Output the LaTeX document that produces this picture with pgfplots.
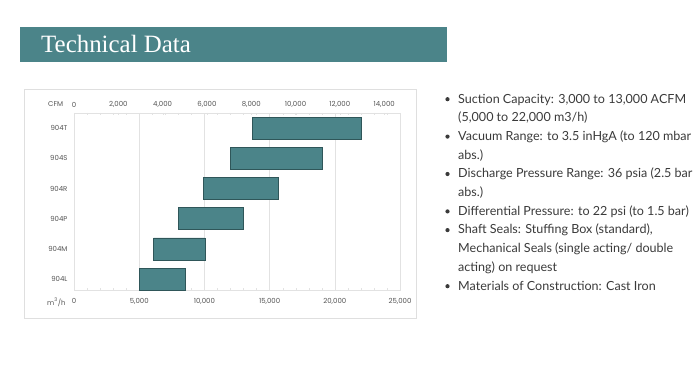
\documentclass[border=0pt]{standalone}
\usepackage{pgfplots}
\pgfplotsset{compat=1.18}
\usepackage{fontspec}
\setmainfont{Lato}
\newfontfamily\chartfont{Poppins}
\newfontfamily\titlefont{Liberation Serif}
\definecolor{teal1}{HTML}{4B8489}
\definecolor{tealdark}{HTML}{2F5659}
\definecolor{lbl}{HTML}{555555}
\definecolor{txt}{HTML}{3A3A3A}
\definecolor{gridc}{HTML}{E2E2E2}
\begin{document}
\begin{tikzpicture}[x=1bp,y=1bp]
\path[use as bounding box] (0,0) rectangle (700,383);
% title banner
\fill[teal1] (20,321) rectangle (447,356);
\node[anchor=base west, inner sep=0pt, text=white, font=\titlefont\fontsize{25}{28}\selectfont] at (41,331) {Technical Data};
% card
\draw[draw=gray!25, fill=white] (24,65) rectangle (416,294);
% chart
\begin{axis}[
  at={(74bp,93bp)}, anchor=south west,
  scale only axis, width=326bp, height=177bp,
  xmin=0, xmax=25000, ymin=-0.36, ymax=5.5,
  xbar stacked, bar width=22bp,
  axis line style={gridc},
  scaled x ticks=false,
  xtick={0,5000,10000,15000,20000,25000},
  xticklabels={0,{5,000},{10,000},{15,000},{20,000},{25,000}},
  minor x tick num=4,
  xmajorgrids, major grid style={gridc},
  major tick length=0pt, minor tick length=2bp,
  minor tick style={gridc},
  ytick={0,1,2,3,4,5},
  yticklabels={904L,904M,904P,904R,904S,904T},
  tick label style={font=\chartfont\fontsize{7}{8}\selectfont, text=lbl},
  xticklabel style={yshift=-5bp},
  yticklabel style={xshift=-3bp},
  clip=false,
]
\addplot[draw=none, fill=none] coordinates {(5000,0) (6100,1) (8000,2) (9900,3) (12000,4) (13650,5)};
\addplot[fill=teal1, draw=tealdark, line width=0.6bp] coordinates {(3550,0) (3950,1) (5000,2) (5800,3) (7050,4) (8350,5)};
\end{axis}
\begin{axis}[
  at={(74bp,93bp)}, anchor=south west,
  scale only axis, width=326bp, height=177bp,
  xmin=0, xmax=14714, ymin=-0.36, ymax=5.5,
  axis x line*=top, axis y line=none,
  axis line style={gridc},
  scaled x ticks=false,
  xtick={0,2000,4000,6000,8000,10000,12000,14000},
  xticklabels={0,{2,000},{4,000},{6,000},{8,000},{10,000},{12,000},{14,000}},
  minor x tick num=1,
  major tick length=2bp, minor tick length=1.5bp,
  tick style={gridc},
  tick label style={font=\chartfont\fontsize{7}{8}\selectfont, text=lbl},
  xticklabel style={yshift=2bp},
]
\addplot[draw=none] coordinates {(0,0)};
\end{axis}
\node[anchor=base west, inner sep=0pt, text=lbl, font=\chartfont\fontsize{7}{8}\selectfont] at (48,277) {CFM};
\node[anchor=base west, inner sep=0pt, text=lbl, font=\chartfont\fontsize{7}{8}\selectfont] at (47,78) {m\textsuperscript{3}/h};
% bullet list
\begin{scope}[every node/.style={anchor=base west, inner sep=0pt, text=txt, font=\fontsize{12.6}{14}\selectfont}]
\node at (458,280.0) {Suction Capacity: 3,000 to 13,000 ACFM};
\node at (458,261.3) {(5,000 to 22,000 m3/h)};
\node at (458,242.6) {Vacuum Range: to 3.5 inHgA (to 120 mbar};
\node at (458,223.9) {abs.)};
\node at (458,205.2) {Discharge Pressure Range: 36 psia (2.5 bar};
\node at (458,186.5) {abs.)};
\node at (458,167.8) {Differential Pressure: to 22 psi (to 1.5 bar)};
\node at (458,149.1) {Shaft Seals: Stuffing Box (standard),};
\node at (458,130.4) {Mechanical Seals (single acting/ double};
\node at (458,111.7) {acting) on request};
\node at (458,93.0) {Materials of Construction: Cast Iron};
\end{scope}
\foreach \yy in {280.0,242.6,205.2,167.8,149.1,93.0} {
  \fill[txt] (447.5,\yy+3.8) circle (2.1);
}
\end{tikzpicture}
\end{document}
